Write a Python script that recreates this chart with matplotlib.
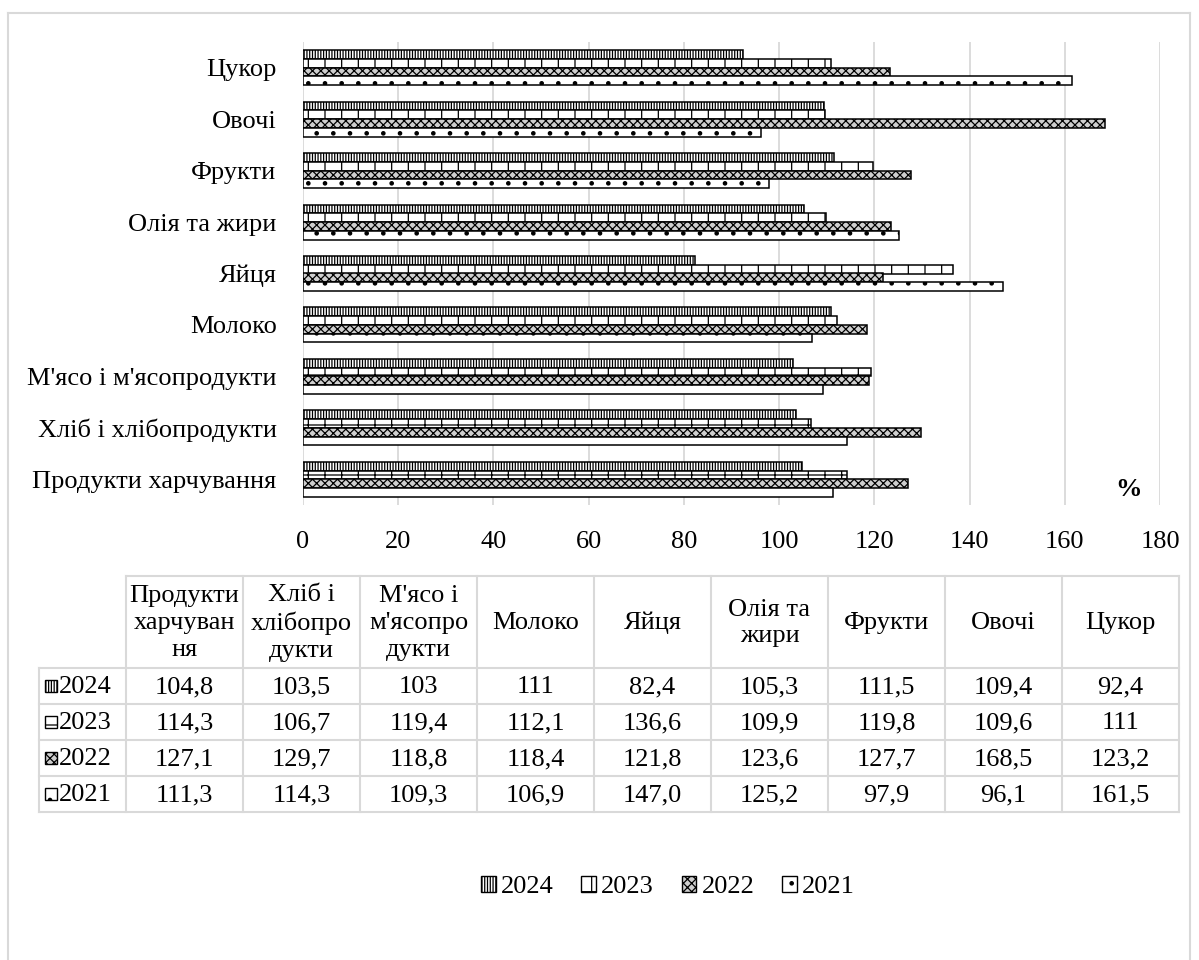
import numpy as np
import matplotlib
matplotlib.use("Agg")
import matplotlib.pyplot as plt
from matplotlib.patches import Rectangle, Patch

plt.rcParams['font.family'] = ['Liberation Serif', 'DejaVu Serif']
plt.rcParams['hatch.linewidth'] = 0.9

# ---------------- data ----------------
categories = ["Продукти харчування", "Хліб і хлібопродукти", "М'ясо і м'ясопродукти",
              "Молоко", "Яйця", "Олія та жири", "Фрукти", "Овочі", "Цукор"]
table_headers = ["Продукти\nхарчуван\nня", "Хліб і\nхлібопро\nдукти", "М'ясо і\nм'ясопро\nдукти",
                 "Молоко", "Яйця", "Олія та\nжири", "Фрукти", "Овочі", "Цукор"]
years = ["2024", "2023", "2022", "2021"]
v2024 = ["104,8", "103,5", "103", "111", "82,4", "105,3", "111,5", "109,4", "92,4"]
v2023 = ["114,3", "106,7", "119,4", "112,1", "136,6", "109,9", "119,8", "109,6", "111"]
v2022 = ["127,1", "129,7", "118,8", "118,4", "121,8", "123,6", "127,7", "168,5", "123,2"]
v2021 = ["111,3", "114,3", "109,3", "106,9", "147,0", "125,2", "97,9", "96,1", "161,5"]
xticks = [0, 20, 40, 60, 80, 100, 120, 140, 160, 180]

series_text = [v2024, v2023, v2022, v2021]
series_vals = [[float(s.replace(",", ".")) for s in ser] for ser in series_text]

# styles per year
styles = [
    dict(facecolor="white", hatch="||||||"),
    dict(facecolor="white", hatch="+"),
    dict(facecolor="#cfcfcf", hatch="xxxx"),
    dict(facecolor="white", hatch="."),
]

FS = 19
W, H = 1199, 960
fig = plt.figure(figsize=(W / 100, H / 100), dpi=100)

def fx(x):
    return x / W

def fy(y):
    return 1 - y / H

# ---------------- bar chart ----------------
ax = fig.add_axes([fx(303), fy(505), fx(1160) - fx(303), fy(42) - fy(505)])
ax.set_xlim(0, 180)
ax.set_ylim(-0.5, len(categories) - 0.5)
ypos = np.arange(len(categories))
bh = 0.17
offsets = [1.5 * bh, 0.5 * bh, -0.5 * bh, -1.5 * bh]
for vals, st, off in zip(series_vals, styles, offsets):
    ax.barh(ypos + off, vals, height=bh, edgecolor="black", linewidth=1.1,
            zorder=3, **st)

ax.set_xticks(xticks)
ax.set_xticklabels([str(t) for t in xticks])
ax.set_yticks(ypos)
ax.set_yticklabels(categories)
ax.tick_params(axis="x", length=0, pad=19, labelsize=FS)
ax.tick_params(axis="y", length=0, pad=19, labelsize=FS)
for s in ax.spines.values():
    s.set_visible(False)
ax.grid(axis="x", color="#d9d9d9", linewidth=1.3, zorder=0)
ax.set_axisbelow(True)
fig.text(fx(1128), fy(490), "%", fontsize=FS, fontweight="bold", ha="center", va="center")

# ---------------- overlay: frame and data table ----------------
ov = fig.add_axes([0, 0, 1, 1], zorder=-1)
ov.set_xlim(0, W)
ov.set_ylim(H, 0)
ov.axis("off")
ov.patch.set_visible(False)

grid_c = "#d9d9d9"
# outer frame
ov.plot([8, 8], [13, H], color=grid_c, lw=1.5)
ov.plot([8, 1190], [13, 13], color=grid_c, lw=1.5)
ov.plot([1190, 1190], [13, H], color=grid_c, lw=1.5)

col_edges = np.linspace(126, 1179, len(categories) + 1)
key_left = 39
head_top, head_bot = 576, 668
row_h = 36
row_edges = [head_bot + i * row_h for i in range(len(years) + 1)]

# horizontal lines
ov.plot([col_edges[0], col_edges[-1]], [head_top, head_top], color=grid_c, lw=1.5)
for yv in row_edges:
    ov.plot([key_left, col_edges[-1]], [yv, yv], color=grid_c, lw=1.5)
# vertical lines
for xv in col_edges:
    ov.plot([xv, xv], [head_top, row_edges[-1]], color=grid_c, lw=1.5)
ov.plot([key_left, key_left], [row_edges[0], row_edges[-1]], color=grid_c, lw=1.5)

for j, hdr in enumerate(table_headers):
    cx = (col_edges[j] + col_edges[j + 1]) / 2
    ov.text(cx, (head_top + head_bot) / 2 + 1, hdr, ha="center", va="center",
            fontsize=FS, linespacing=1.28)

for i, (yr, txts, st) in enumerate(zip(years, series_text, styles)):
    cy = (row_edges[i] + row_edges[i + 1]) / 2
    ov.add_patch(Rectangle((45, cy - 6.5), 12, 12, edgecolor="black", linewidth=1.0,
                           **st))
    ov.text(59, cy + 1, yr, ha="left", va="center", fontsize=FS)
    for j, t in enumerate(txts):
        cx = (col_edges[j] + col_edges[j + 1]) / 2
        ov.text(cx, cy + 1, t, ha="center", va="center", fontsize=FS)

# ---------------- legend ----------------
handles = [Patch(edgecolor="black", linewidth=1.0, label=yr, **st)
           for yr, st in zip(years, styles)]
fig.legend(handles=handles, loc="center", bbox_to_anchor=(fx(668), fy(887)),
           ncol=4, frameon=False, fontsize=FS, handlelength=0.55, handleheight=0.55,
           handletextpad=0.2, columnspacing=1.05)

fig.savefig("out.png", dpi=100)
